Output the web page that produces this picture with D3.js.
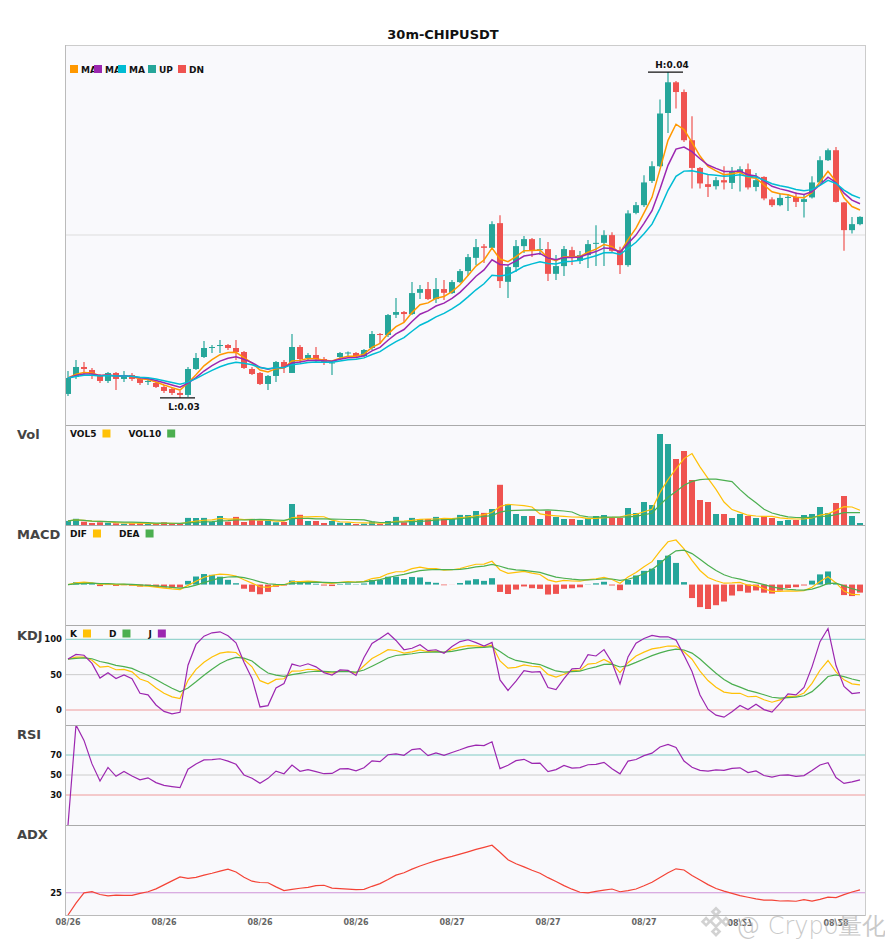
<!DOCTYPE html>
<html>
<head>
<meta charset="utf-8">
<script src="https://cdn.jsdelivr.net/npm/d3@7"></script>
<style>
  body { margin: 0; background: #fff; }
  svg { display: block; }
  text { font-family: "DejaVu Sans", sans-serif; }
</style>
</head>
<body>
<svg id="chart" width="885" height="950"></svg>
<script>
const title = '30m-CHIPUSDT';

const opens = [
  0.03024, 0.03092, 0.03132, 0.03120, 0.03096, 0.03076, 0.03108, 0.03084, 0.03100, 0.03084,
  0.03072, 0.03068, 0.03052, 0.03044, 0.03028, 0.03020, 0.03124, 0.03172, 0.03208, 0.03216,
  0.03220, 0.03208, 0.03192, 0.03124, 0.03108, 0.03064, 0.03096, 0.03152, 0.03108, 0.03212,
  0.03168, 0.03180, 0.03164, 0.03146, 0.03172, 0.03188, 0.03188, 0.03176, 0.03208, 0.03264,
  0.03260, 0.03341, 0.03352, 0.03344, 0.03429, 0.03444, 0.03404, 0.03444, 0.03428, 0.03472,
  0.03516, 0.03569, 0.03615, 0.03609, 0.03708, 0.03473, 0.03532, 0.03616, 0.03644, 0.03600,
  0.03604, 0.03505, 0.03536, 0.03600, 0.03557, 0.03580, 0.03625, 0.03629, 0.03660, 0.03600,
  0.03540, 0.03749, 0.03780, 0.03877, 0.03936, 0.04149, 0.04272, 0.04233, 0.04040, 0.03929,
  0.03864, 0.03856, 0.03880, 0.03869, 0.03911, 0.03924, 0.03853, 0.03893, 0.03803, 0.03780,
  0.03809, 0.03813, 0.03793, 0.03811, 0.03871, 0.03960, 0.04000, 0.03791, 0.03680, 0.03704
];
const highs = [
  0.03116, 0.03160, 0.03152, 0.03128, 0.03104, 0.03112, 0.03112, 0.03116, 0.03108, 0.03092,
  0.03084, 0.03072, 0.03060, 0.03052, 0.03036, 0.03132, 0.03188, 0.03236, 0.03220, 0.03240,
  0.03224, 0.03240, 0.03196, 0.03132, 0.03112, 0.03100, 0.03156, 0.03160, 0.03264, 0.03220,
  0.03188, 0.03212, 0.03172, 0.03154, 0.03192, 0.03194, 0.03192, 0.03204, 0.03276, 0.03268,
  0.03344, 0.03408, 0.03356, 0.03472, 0.03460, 0.03472, 0.03488, 0.03480, 0.03480, 0.03524,
  0.03584, 0.03644, 0.03624, 0.03716, 0.03740, 0.03540, 0.03640, 0.03656, 0.03648, 0.03648,
  0.03632, 0.03580, 0.03616, 0.03613, 0.03596, 0.03640, 0.03700, 0.03680, 0.03672, 0.03613,
  0.03760, 0.03793, 0.03900, 0.03956, 0.04203, 0.04313, 0.04277, 0.04243, 0.04136, 0.03933,
  0.03904, 0.03893, 0.03936, 0.03933, 0.03936, 0.03947, 0.03909, 0.03896, 0.03812, 0.03827,
  0.03824, 0.03832, 0.03824, 0.03896, 0.03976, 0.04007, 0.04013, 0.03793, 0.03733, 0.03736
];
const lows = [
  0.03016, 0.03084, 0.03100, 0.03084, 0.03068, 0.03068, 0.03040, 0.03072, 0.03076, 0.03060,
  0.03060, 0.03048, 0.03028, 0.03020, 0.03008, 0.03012, 0.03120, 0.03168, 0.03188, 0.03188,
  0.03200, 0.03160, 0.03124, 0.03100, 0.03060, 0.03040, 0.03072, 0.03108, 0.03108, 0.03148,
  0.03160, 0.03152, 0.03140, 0.03100, 0.03168, 0.03174, 0.03172, 0.03172, 0.03200, 0.03224,
  0.03252, 0.03328, 0.03312, 0.03340, 0.03404, 0.03400, 0.03388, 0.03400, 0.03424, 0.03468,
  0.03496, 0.03540, 0.03548, 0.03604, 0.03448, 0.03408, 0.03512, 0.03588, 0.03572, 0.03580,
  0.03476, 0.03480, 0.03496, 0.03540, 0.03544, 0.03528, 0.03536, 0.03536, 0.03588, 0.03504,
  0.03533, 0.03744, 0.03773, 0.03869, 0.03933, 0.04069, 0.04167, 0.04033, 0.03847, 0.03847,
  0.03813, 0.03843, 0.03843, 0.03845, 0.03835, 0.03843, 0.03836, 0.03800, 0.03773, 0.03776,
  0.03757, 0.03773, 0.03731, 0.03807, 0.03867, 0.03957, 0.03791, 0.03597, 0.03667, 0.03700
];
const closes = [
  0.03088, 0.03132, 0.03124, 0.03104, 0.03076, 0.03108, 0.03084, 0.03100, 0.03084, 0.03068,
  0.03076, 0.03052, 0.03036, 0.03028, 0.03020, 0.03124, 0.03168, 0.03208, 0.03212, 0.03220,
  0.03208, 0.03192, 0.03128, 0.03104, 0.03064, 0.03096, 0.03152, 0.03132, 0.03212, 0.03164,
  0.03180, 0.03164, 0.03148, 0.03150, 0.03188, 0.03190, 0.03176, 0.03200, 0.03264, 0.03260,
  0.03340, 0.03352, 0.03344, 0.03428, 0.03444, 0.03404, 0.03444, 0.03429, 0.03472, 0.03516,
  0.03572, 0.03612, 0.03609, 0.03704, 0.03476, 0.03532, 0.03616, 0.03644, 0.03600, 0.03604,
  0.03505, 0.03536, 0.03604, 0.03571, 0.03580, 0.03624, 0.03629, 0.03660, 0.03597, 0.03540,
  0.03747, 0.03780, 0.03871, 0.03936, 0.04147, 0.04272, 0.04233, 0.04040, 0.03929, 0.03867,
  0.03853, 0.03880, 0.03871, 0.03913, 0.03924, 0.03851, 0.03880, 0.03807, 0.03780, 0.03809,
  0.03813, 0.03793, 0.03804, 0.03871, 0.03960, 0.04000, 0.03793, 0.03680, 0.03704, 0.03733
];
const volumes = [
  4100, 6200, 3300, 2000, 2700, 2300, 1700, 1300, 1700, 1700,
  1000, 1300, 2700, 1300, 1300, 7100, 7000, 7100, 3000, 9000,
  3300, 8100, 3000, 5000, 4300, 4300, 2700, 3000, 21000, 10200,
  4000, 4000, 2000, 4000, 2300, 2000, 1000, 1300, 3300, 1300,
  4000, 8100, 2700, 7100, 6000, 6000, 8100, 6000, 6000, 10100,
  10000, 14000, 12100, 16000, 40200, 20700, 11000, 9000, 9000, 6000,
  14000, 8000, 6000, 6000, 5000, 7000, 9000, 10000, 7000, 7000,
  17000, 12000, 23000, 20000, 91000, 81000, 66000, 74000, 45000, 25000,
  23000, 11000, 11000, 7000, 11000, 9000, 7000, 9000, 7000, 4000,
  5000, 5000, 10000, 11000, 18000, 12000, 22000, 29000, 9000, 2000
];

const tickLabels = ['08/26', '08/26', '08/26', '08/26', '08/27', '08/27', '08/27', '08/27', '08/28'];
const tickStep = 12;
const flippedTicks = [7, 8]; // the last two labels are drawn upside down in the original

const maPeriods = [5, 8, 13];
const macdParams = { fast: 5, slow: 13, signal: 5 };
const kdjLevels = [100, 50, 0];
const rsiLevels = [70, 50, 30];
const adxLevels = [25];

const colors = {
  up: '#26a69a', down: '#ef5350',
  ma: ['#ff9800', '#9c27b0', '#00bcd4'],
  yellow: '#ffc107', green: '#4caf50', purple: '#9c27b0', red: '#f44336'
};

// ---------- indicators ----------
function ema(values, n) {
  const a = 2 / (n + 1);
  const out = [];
  values.forEach((v, i) => out.push(i === 0 ? v : a * v + (1 - a) * out[i - 1]));
  return out;
}

function sma(values, n) {
  return values.map((v, i) => d3.mean(values.slice(Math.max(0, i - n + 1), i + 1)));
}

function calcKDJ(n) {
  const k = [], d = [], j = [];
  closes.forEach((c, i) => {
    const from = Math.max(0, i - n + 1);
    const lo = d3.min(lows.slice(from, i + 1));
    const hi = d3.max(highs.slice(from, i + 1));
    const rsv = hi === lo ? 50 : (c - lo) / (hi - lo) * 100;
    const kv = i === 0 ? rsv : (2 * k[i - 1] + rsv) / 3;
    const dv = i === 0 ? kv : (2 * d[i - 1] + kv) / 3;
    k.push(kv); d.push(dv); j.push(3 * kv - 2 * dv);
  });
  return { k, d, j };
}

// wilder rsi, seeded with a running mean for the first n bars
function calcRSI(n) {
  let up = 0, dn = 0;
  return closes.map((c, i) => {
    if (i === 0) return 0;
    const ch = c - closes[i - 1];
    const m = Math.min(i, n);
    up = (Math.max(ch, 0) + (m - 1) * up) / m;
    dn = (Math.max(-ch, 0) + (m - 1) * dn) / m;
    return up + dn === 0 ? 0 : up / (up + dn) * 100;
  });
}

function calcADX(n) {
  const a = 2 / (n + 1);
  let tr = 0, pdm = 0, mdm = 0, adx = 0;
  return closes.map((c, i) => {
    let trv = highs[i] - lows[i], p = 0, m = 0;
    if (i > 0) {
      trv = Math.max(trv, Math.abs(highs[i] - closes[i - 1]), Math.abs(lows[i] - closes[i - 1]));
      const upMove = highs[i] - highs[i - 1];
      const downMove = lows[i - 1] - lows[i];
      p = upMove > downMove && upMove > 0 ? upMove : 0;
      m = downMove > upMove && downMove > 0 ? downMove : 0;
    }
    tr = i === 0 ? trv : tr + a * (trv - tr);
    pdm += a * (p - pdm);
    mdm += a * (m - mdm);
    const pdi = 100 * pdm / tr, mdi = 100 * mdm / tr;
    const dx = pdi + mdi === 0 ? 0 : 100 * Math.abs(pdi - mdi) / (pdi + mdi);
    adx = i === 0 ? dx : adx + a * (dx - adx);
    return adx;
  });
}

const maLines = maPeriods.map(p => ema(closes, p));
const vol5 = sma(volumes, 5);
const vol10 = sma(volumes, 10);
const emaFast = ema(closes, macdParams.fast);
const emaSlow = ema(closes, macdParams.slow);
const dif = emaFast.map((v, i) => v - emaSlow[i]);
const dea = ema(dif, macdParams.signal);
const macdHist = dif.map((v, i) => 2 * (v - dea[i]));
const kdj = calcKDJ(9);
const rsi = calcRSI(14);
const adx = calcADX(14);

// ---------- layout ----------
const plotLeft = 65, plotRight = 865;
const panels = {
  main: [45, 425], vol: [425, 525], macd: [525, 625],
  kdj: [625, 725], rsi: [725, 825], adx: [825, 915]
};

const svg = d3.select('#chart');
const n = closes.length;
const idx = d3.range(n);

const x = d3.scaleBand().domain(idx).range([64, 864]).paddingInner(0.25).paddingOuter(0.125);
const cx = i => x(i) + x.bandwidth() / 2;
const isUp = i => closes[i] >= opens[i];

const hi = d3.max(highs), lo = d3.min(lows);
const pad = (hi - lo) * 0.083;
const yPrice = d3.scaleLinear().domain([lo - pad, hi + pad]).range(panels.main.slice().reverse());
const yVol = d3.scaleLinear().domain([0, d3.max(volumes)]).range([panels.vol[1], panels.vol[0] + 9]);
const macdExt = d3.extent([...dif, ...dea, ...macdHist]);
const yMacd = d3.scaleLinear().domain(macdExt).range([panels.macd[1] - 16, panels.macd[0] + 15]);
const yKdj = d3.scaleLinear().domain([0, 100]).range([panels.kdj[0] + 85, panels.kdj[0] + 14.3]);
const yRsi = d3.scaleLinear().domain([0, 100]).range([panels.rsi[1], panels.rsi[0]]);
const yAdx = d3.scaleLinear().domain([0, 100]).range([panels.adx[1], panels.adx[0] + 1]);

// backgrounds and clips
svg.append('rect').attr('x', plotLeft).attr('y', panels.main[0])
  .attr('width', plotRight - plotLeft).attr('height', panels.adx[1] - panels.main[0])
  .attr('fill', '#f9f9fc');

const defs = svg.append('defs');
Object.entries(panels).forEach(([key, [top, bottom]]) => {
  defs.append('clipPath').attr('id', 'clip-' + key)
    .append('rect').attr('x', plotLeft).attr('y', top)
    .attr('width', plotRight - plotLeft).attr('height', bottom - top);
});
const layer = key => svg.append('g').attr('clip-path', `url(#clip-${key})`);

svg.append('text').text(title)
  .attr('x', 443).attr('y', 39).attr('text-anchor', 'middle')
  .attr('font-size', 13).attr('font-weight', 'bold').attr('fill', '#111');

// ---------- main candles ----------
const main = layer('main');
const midPrice = (lo - pad + hi + pad) / 2;
main.append('line')
  .attr('x1', plotLeft).attr('x2', plotRight)
  .attr('y1', yPrice(midPrice)).attr('y2', yPrice(midPrice))
  .attr('stroke', '#dddddd');

main.selectAll('.wick').data(idx).join('line')
  .attr('x1', cx).attr('x2', cx)
  .attr('y1', i => yPrice(highs[i])).attr('y2', i => yPrice(lows[i]))
  .attr('stroke', i => isUp(i) ? colors.up : colors.down).attr('stroke-width', 1.2);

main.selectAll('.body').data(idx).join('rect')
  .attr('x', i => x(i)).attr('width', x.bandwidth())
  .attr('y', i => yPrice(Math.max(opens[i], closes[i])))
  .attr('height', i => Math.max(1, Math.abs(yPrice(opens[i]) - yPrice(closes[i]))))
  .attr('fill', i => isUp(i) ? colors.up : colors.down);

maLines.forEach((vals, k) => {
  main.append('path').datum(vals)
    .attr('d', d3.line().x((d, i) => cx(i)).y(d => yPrice(d)))
    .attr('fill', 'none').attr('stroke', colors.ma[k]).attr('stroke-width', 1.5);
});

// high / low markers
const hiIdx = highs.indexOf(hi), loIdx = lows.indexOf(lo);
[[hiIdx, hi, 'H:', -4], [loIdx, lo, 'L:', 12]].forEach(([i, v, label, dy]) => {
  svg.append('line')
    .attr('x1', cx(i) - 20).attr('x2', cx(i) + 15)
    .attr('y1', yPrice(v)).attr('y2', yPrice(v))
    .attr('stroke', '#111').attr('stroke-width', 1.3);
  svg.append('text').text(label + v.toFixed(2))
    .attr('x', cx(i) + 4).attr('y', yPrice(v) + dy).attr('text-anchor', 'middle')
    .attr('font-size', 9).attr('font-weight', 'bold').attr('fill', '#111');
});

// main legend: box first, then label
const mainLegend = [
  { label: 'MA', color: colors.ma[0], dx: 0 },
  { label: 'MA', color: colors.ma[1], dx: 24 },
  { label: 'MA', color: colors.ma[2], dx: 48 },
  { label: 'UP', color: colors.up, dx: 78 },
  { label: 'DN', color: colors.down, dx: 108 }
];
mainLegend.forEach(d => {
  svg.append('text').text(d.label)
    .attr('x', 81 + d.dx).attr('y', 72.5)
    .attr('font-size', 9).attr('font-weight', 'bold').attr('fill', '#111');
});
mainLegend.forEach(d => {
  svg.append('rect').attr('x', 70 + d.dx).attr('y', 65).attr('width', 8).attr('height', 8)
    .attr('fill', d.color);
});

// ---------- sub panels ----------
function panelLegend(y, items) {
  let xPos = 70;
  items.forEach(d => {
    const t = svg.append('text').text(d.label)
      .attr('x', xPos).attr('y', y)
      .attr('font-size', 9).attr('font-weight', 'bold').attr('fill', '#111');
    const w = t.node().getComputedTextLength();
    svg.append('rect').attr('x', xPos + w + 6).attr('y', y - 7.5)
      .attr('width', 8).attr('height', 8).attr('fill', d.color);
    xPos += w + 6 + 8 + 18;
  });
}

function levelLines(g, scale, levels, lineColors) {
  levels.forEach((lv, k) => {
    g.append('line').attr('x1', plotLeft).attr('x2', plotRight)
      .attr('y1', scale(lv)).attr('y2', scale(lv))
      .attr('stroke', lineColors[k]).attr('stroke-width', 1);
    svg.append('text').text(lv)
      .attr('x', 62).attr('y', scale(lv) + 3).attr('text-anchor', 'end')
      .attr('font-size', 8.5).attr('font-weight', 'bold').attr('fill', '#111');
  });
}

const linePath = scale => d3.line().x((d, i) => cx(i)).y(d => scale(d));
function drawLine(g, vals, scale, color, width) {
  g.append('path').datum(vals).attr('d', linePath(scale))
    .attr('fill', 'none').attr('stroke', color).attr('stroke-width', width || 1.2);
}

// volume
const volG = layer('vol');
volG.selectAll('rect').data(idx).join('rect')
  .attr('x', i => x(i)).attr('width', x.bandwidth())
  .attr('y', i => yVol(volumes[i]))
  .attr('height', i => yVol(0) - yVol(volumes[i]))
  .attr('fill', i => isUp(i) ? colors.up : colors.down);
drawLine(volG, vol5, yVol, colors.yellow);
drawLine(volG, vol10, yVol, colors.green);
panelLegend(437, [{ label: 'VOL5', color: colors.yellow }, { label: 'VOL10', color: colors.green }]);

// macd
const macdG = layer('macd');
macdG.selectAll('rect').data(idx).join('rect')
  .attr('x', i => x(i)).attr('width', x.bandwidth())
  .attr('y', i => Math.min(yMacd(0), yMacd(macdHist[i])))
  .attr('height', i => Math.abs(yMacd(macdHist[i]) - yMacd(0)))
  .attr('fill', i => macdHist[i] >= 0 ? colors.up : colors.down);
drawLine(macdG, dif, yMacd, colors.yellow);
drawLine(macdG, dea, yMacd, colors.green);
panelLegend(537, [{ label: 'DIF', color: colors.yellow }, { label: 'DEA', color: colors.green }]);

// kdj
const kdjG = layer('kdj');
levelLines(kdjG, yKdj, kdjLevels, ['#80cbc4', '#cccccc', '#ef9a9a']);
drawLine(kdjG, kdj.k, yKdj, colors.yellow);
drawLine(kdjG, kdj.d, yKdj, colors.green);
drawLine(kdjG, kdj.j, yKdj, colors.purple);
panelLegend(637, [{ label: 'K', color: colors.yellow }, { label: 'D', color: colors.green }, { label: 'J', color: colors.purple }]);

// rsi
const rsiG = layer('rsi');
levelLines(rsiG, yRsi, rsiLevels, ['#80cbc4', '#cccccc', '#ef9a9a']);
drawLine(rsiG, rsi, yRsi, colors.purple);

// adx
const adxG = layer('adx');
levelLines(adxG, yAdx, adxLevels, ['#ce93d8']);
drawLine(adxG, adx, yAdx, colors.red);

// panel titles
[['Vol', 439], ['MACD', 539], ['KDJ', 640], ['RSI', 739], ['ADX', 839]].forEach(([t, y]) => {
  svg.append('text').text(t).attr('x', 17).attr('y', y)
    .attr('font-family', '"Noto Sans", "DejaVu Sans", sans-serif')
    .attr('font-size', 13).attr('font-weight', 'bold').attr('fill', '#444');
});

// frame and separators
svg.append('line').attr('x1', plotLeft).attr('x2', plotRight).attr('y1', 45.5).attr('y2', 45.5).attr('stroke', '#cccccc');
[425, 525, 625, 725, 825].forEach(y => {
  svg.append('line').attr('x1', plotLeft).attr('x2', plotRight).attr('y1', y + 0.5).attr('y2', y + 0.5)
    .attr('stroke', '#aaaaaa');
});
svg.append('line').attr('x1', plotLeft).attr('x2', plotRight).attr('y1', 915.5).attr('y2', 915.5).attr('stroke', '#bbbbbb');
svg.append('line').attr('x1', plotLeft + 0.5).attr('x2', plotLeft + 0.5).attr('y1', 45).attr('y2', 916).attr('stroke', '#bbbbbb');
svg.append('line').attr('x1', plotRight + 0.5).attr('x2', plotRight + 0.5).attr('y1', 45).attr('y2', 916).attr('stroke', '#cccccc');

// x tick labels
tickLabels.forEach((label, k) => {
  const xPos = cx(k * tickStep);
  const t = svg.append('text').text(label)
    .attr('text-anchor', 'middle')
    .attr('font-size', 8).attr('font-weight', 'bold').attr('fill', '#666');
  if (flippedTicks.includes(k)) {
    t.attr('transform', `translate(${xPos},921.5) scale(1,-1)`).attr('y', 3);
  } else {
    t.attr('x', xPos).attr('y', 925);
  }
});

// watermark
const wm = svg.append('g').attr('opacity', 0.75);
const logo = wm.append('g').attr('transform', 'translate(716,921) rotate(45)')
  .attr('fill', 'none').attr('stroke', '#c4c4c4').attr('stroke-width', 2.6);
logo.append('rect').attr('x', -4).attr('y', -4).attr('width', 8).attr('height', 8);
[[-10, -10], [4, -10], [-10, 4], [4, 4]].forEach(([a, b]) => {
  logo.append('rect').attr('x', a + 1).attr('y', b + 1).attr('width', 5).attr('height', 5);
});
wm.append('text').text('@ Crypo量化')
  .attr('x', 736).attr('y', 934)
  .attr('font-family', '"Noto Sans CJK SC", "DejaVu Sans", sans-serif')
  .attr('font-size', 24).attr('font-weight', 300).attr('fill', '#b8b8b8');
</script>
</body>
</html>
